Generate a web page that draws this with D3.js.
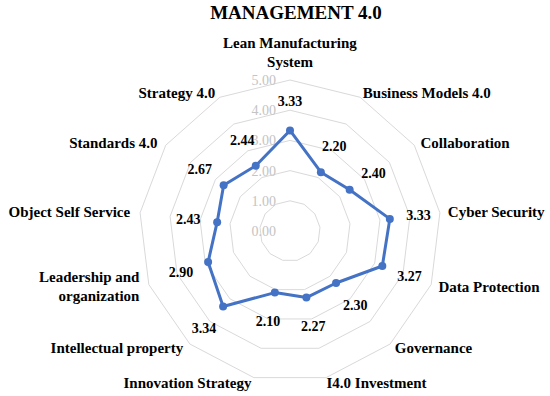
<!DOCTYPE html>
<html>
<head>
<meta charset="utf-8">
<script src="https://cdn.jsdelivr.net/npm/d3@7"></script>
<style>
  body { margin: 0; background: #fff; }
  svg { font-family: "Liberation Serif", "Times New Roman", serif; }
</style>
</head>
<body>
<svg id="chart" width="550" height="396"></svg>
<script>
const categories = ["Lean Manufacturing System", "Business Models 4.0", "Collaboration", "Cyber Security",
  "Data Protection", "Governance", "I4.0 Investment", "Innovation Strategy", "Intellectual property",
  "Leadership and organization", "Object Self Service", "Standards 4.0", "Strategy 4.0"];
const values = [3.33, 2.20, 2.40, 3.33, 3.27, 2.30, 2.27, 2.10, 3.34, 2.90, 2.43, 2.67, 2.44];
const ringTicks = [0, 1, 2, 3, 4, 5];
// labels that wrap onto two lines
const labelLines = {
  "Lean Manufacturing System": ["Lean Manufacturing", "System"],
  "Leadership and organization": ["Leadership and", "organization"]
};

var svg = d3.select("#chart");
var cx = 290, cy = 231, R = 151;
var n = categories.length;

var rScale = d3.scaleLinear().domain([0, 5]).range([0, R]);
var angle = d3.scaleLinear().domain([0, n]).range([0, 2 * Math.PI]);

function pos(i, r) {
  var a = angle(i);
  return [cx + r * Math.sin(a), cy - r * Math.cos(a)];
}

// title
svg.append("text")
  .attr("x", 296).attr("y", 19)
  .attr("text-anchor", "middle")
  .style("font-size", "19px").style("font-weight", "bold")
  .text("MANAGEMENT 4.0");

// grid rings
var g = svg.append("g");
g.selectAll("path.ring")
  .data(ringTicks.filter(d => d > 0))
  .join("path").attr("class", "ring")
  .attr("d", function(t) {
    var pts = d3.range(n).map(i => pos(i, rScale(t)));
    return d3.line()(pts) + "Z";
  })
  .attr("fill", "none")
  .attr("stroke", "#d9d9d9")
  .attr("stroke-width", 1);

// ring labels
g.selectAll("text.tick")
  .data(ringTicks)
  .join("text").attr("class", "tick")
  .attr("x", cx - 14)
  .attr("y", d => cy - rScale(d))
  .attr("dy", "0.35em")
  .attr("text-anchor", "end")
  .style("font-size", "14px")
  .attr("fill", "#c4c4c4")
  .text(d => d3.format(".2f")(d));

// series line
var pts = values.map((v, i) => pos(i, rScale(v)));
g.append("path")
  .attr("d", d3.line()(pts) + "Z")
  .attr("fill", "none")
  .attr("stroke", "#4472c4")
  .attr("stroke-width", 3)
  .attr("stroke-linejoin", "round");

g.selectAll("circle.pt")
  .data(values)
  .join("circle").attr("class", "pt")
  .attr("cx", (d, i) => pos(i, rScale(d))[0])
  .attr("cy", (d, i) => pos(i, rScale(d))[1])
  .attr("r", 4)
  .attr("fill", "#4472c4");

// value labels
g.selectAll("text.val")
  .data(values)
  .join("text").attr("class", "val")
  .attr("x", (d, i) => pos(i, rScale(d) + 29)[0])
  .attr("y", (d, i) => pos(i, rScale(d) + 29)[1])
  .attr("dy", "0.35em")
  .attr("text-anchor", "middle")
  .style("font-size", "14px").style("font-weight", "bold")
  .attr("fill", "#000")
  .text(d => d3.format(".2f")(d));

// category labels
categories.forEach(function(c, i) {
  var px = pos(i, R + 10)[0];
  var py = pos(i, R + 5)[1];
  var s = Math.sin(angle(i));
  var anchor = s > 0.05 ? "start" : (s < -0.05 ? "end" : "middle");
  var lines = labelLines[c] || [c];
  var lh = 19;
  var y0;
  if (anchor === "middle") {
    y0 = py - (lines.length - 1) * lh - 13;
  } else {
    y0 = py - (lines.length - 1) * lh / 2;
  }
  var t = g.append("text")
    .attr("text-anchor", anchor)
    .style("font-size", "15px").style("font-weight", "bold")
    .attr("fill", "#000");
  lines.forEach(function(l, k) {
    t.append("tspan")
      .attr("x", anchor === "start" ? px - 2 : px)
      .attr("y", y0 + k * lh)
      .attr("dy", "0.35em")
      .text(l);
  });
});
</script>
</body>
</html>
